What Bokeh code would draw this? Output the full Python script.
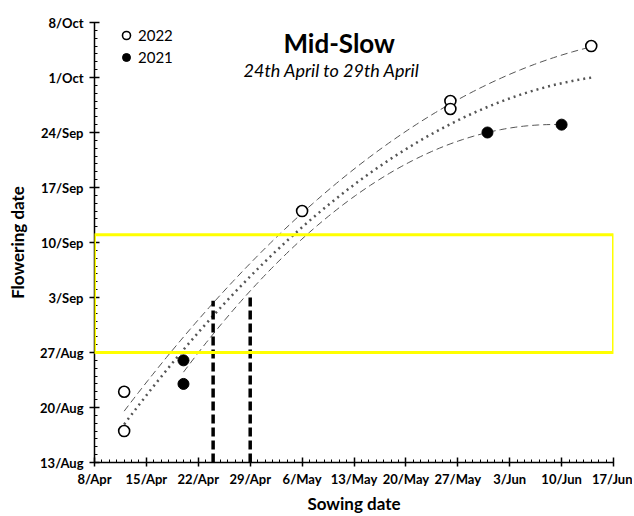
import numpy as np
from datetime import datetime
from bokeh.plotting import figure
from bokeh.models import (FixedTicker, DatetimeTickFormatter, Legend, LegendItem,
                          Label, BoxAnnotation)
from bokeh.embed import file_html
from bokeh.resources import INLINE

# ---- data ----
sow_2022 = ["2022-04-12", "2022-04-12", "2022-05-06", "2022-05-26", "2022-05-26", "2022-06-14"]
flw_2022 = ["2022-08-22", "2022-08-17", "2022-09-14", "2022-09-28", "2022-09-27", "2022-10-05"]
sow_2021 = ["2022-04-20", "2022-04-20", "2022-05-31", "2022-06-10"]
flw_2021 = ["2022-08-26", "2022-08-23", "2022-09-24", "2022-09-25"]

# optimum sowing window markers (vertical dashed lines)
window_sow = ["2022-04-24", "2022-04-29"]
window_top = ["2022-09-02 14:00", "2022-09-03 05:00"]
# target flowering band
band_low = "2022-08-27"
band_high = "2022-09-11"

x_tick_labels = ["8/Apr", "15/Apr", "22/Apr", "29/Apr", "6/May", "13/May", "20/May", "27/May", "3/Jun", "10/Jun", "17/Jun"]
y_tick_labels = ["13/Aug", "20/Aug", "27/Aug", "3/Sep", "10/Sep", "17/Sep", "24/Sep", "1/Oct", "8/Oct"]

DAY = 86400000.0
def ms(s):
    fmt = "%Y-%m-%d %H:%M" if " " in s else "%Y-%m-%d"
    return (datetime.strptime(s, fmt) - datetime(1970, 1, 1)).total_seconds() * 1000.0

months = {"Apr": 4, "May": 5, "Jun": 6, "Aug": 8, "Sep": 9, "Oct": 10}
def parse_lbl(l):
    d, m = l.split("/")
    return ms("2022-%02d-%02d" % (months[m], int(d)))

xt = [parse_lbl(l) for l in x_tick_labels]
yt = [parse_lbl(l) for l in y_tick_labels]
x_minor = list(np.arange(xt[0], xt[-1] + 1, DAY))
y_minor = list(np.arange(yt[0], yt[-1] + 1, DAY))

x22 = np.array([ms(s) for s in sow_2022]); y22 = np.array([ms(s) for s in flw_2022])
x21 = np.array([ms(s) for s in sow_2021]); y21 = np.array([ms(s) for s in flw_2021])

def trend(xs, ys, x0, x1):
    xd = (xs - xt[0]) / DAY
    yd = (ys - yt[0]) / DAY
    c = np.polyfit(xd, yd, 2)
    grid = np.linspace((x0 - xt[0]) / DAY, (x1 - xt[0]) / DAY, 100)
    return grid * DAY + xt[0], np.polyval(c, grid) * DAY + yt[0]

p = figure(width=632, height=516, x_axis_type="datetime", y_axis_type="datetime",
           x_range=(xt[0], xt[-1]), y_range=(yt[0], yt[-1]),
           output_backend="svg", toolbar_location=None,
           min_border_left=94, min_border_right=19, min_border_top=22, min_border_bottom=52)
p.outline_line_color = None
p.grid.visible = False
p.background_fill_color = "white"

# yellow band
p.add_layout(BoxAnnotation(left=xt[0], right=xt[-1], bottom=ms(band_low), top=ms(band_high),
                           fill_alpha=0, line_color="#FFFF00", line_alpha=1, line_width=3))

# trendlines
tx, ty = trend(x22, y22, x22.min(), x22.max())
p.line(tx, ty, line_color="#555555", line_width=1, line_dash="7 4")
tx, ty = trend(x21, y21, x21.min(), x21.max())
p.line(tx, ty, line_color="#555555", line_width=1, line_dash="7 4")
tx, ty = trend(np.concatenate([x22, x21]), np.concatenate([y22, y21]),
               min(x22.min(), x21.min()), max(x22.max(), x21.max()))
p.line(tx, ty, line_color="#555555", line_width=2.5, line_dash="2 4")

# vertical dashed window lines
p.segment(x0=[ms(s) for s in window_sow], y0=[yt[0]] * 2,
          x1=[ms(s) for s in window_sow], y1=[ms(s) for s in window_top],
          line_color="black", line_width=3.5, line_dash="9 4")

r22 = p.scatter(x22, y22, size=11, marker="circle", fill_color="white",
                line_color="black", line_width=1.6)
r21 = p.scatter(x21, y21, size=11, marker="circle", fill_color="black",
                line_color="black", line_width=1)

legend = Legend(items=[LegendItem(label="2022", renderers=[r22]),
                       LegendItem(label="2021", renderers=[r21])],
                location=(22, 395), border_line_color=None, background_fill_alpha=0,
                label_text_font="Lato", label_text_font_size="15px", label_text_color="black",
                glyph_width=20, glyph_height=20, spacing=2, padding=0, margin=0,
                label_standoff=2)
p.add_layout(legend, "center")

font = "Lato"
p.add_layout(Label(x=ms("2022-05-11"), y=ms("2022-10-05 10:00"), text="Mid-Slow",
                   text_font=font, text_font_style="bold", text_font_size="26px",
                   text_color="black", text_align="center", text_baseline="middle"))
p.add_layout(Label(x=ms("2022-05-10"), y=ms("2022-10-02"), text="24th April to 29th April",
                   text_font=font, text_font_style="italic", text_font_size="18px",
                   text_color="black", text_align="center", text_baseline="middle"))

p.xaxis.ticker = FixedTicker(ticks=xt, minor_ticks=x_minor)
p.yaxis.ticker = FixedTicker(ticks=yt, minor_ticks=y_minor)
fmt = DatetimeTickFormatter(days="%-d/%b", months="%-d/%b", years="%-d/%b",
                            hours="%-d/%b", minutes="%-d/%b")
p.xaxis.formatter = fmt
p.yaxis.formatter = fmt

for ax in (p.xaxis, p.yaxis):
    ax.axis_line_color = "black"
    ax.axis_line_width = 1.5
    ax.major_tick_line_color = "black"
    ax.major_tick_line_width = 1.5
    ax.major_tick_in = 5
    ax.major_tick_out = 5
    ax.minor_tick_line_color = "black"
    ax.minor_tick_line_width = 1
    ax.minor_tick_in = 3
    ax.minor_tick_out = 0
    ax.major_label_text_font = font
    ax.major_label_text_font_style = "bold"
    ax.major_label_text_font_size = "13px"
    ax.major_label_text_color = "black"
    ax.axis_label_text_font = font
    ax.axis_label_text_font_style = "bold"
    ax.axis_label_text_font_size = "17px"
    ax.axis_label_text_color = "black"

p.xaxis.major_tick_out = 4
p.xaxis.axis_label = "Sowing date"
p.yaxis.axis_label = "Flowering date"
p.xaxis.major_label_standoff = 4
p.yaxis.major_label_standoff = 6
p.xaxis.axis_label_standoff = 3
p.yaxis.axis_label_standoff = 9

open("out.html", "w").write(file_html(p, INLINE))
